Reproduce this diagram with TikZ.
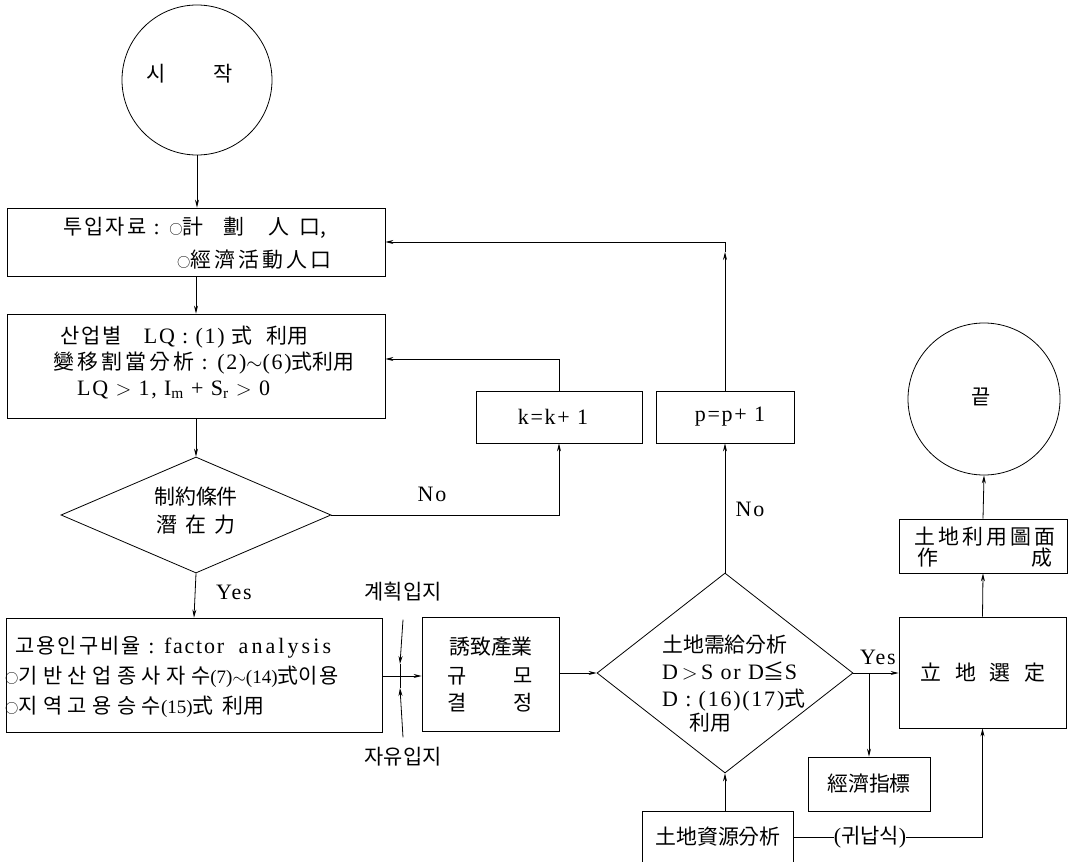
\documentclass[tikz,border=0pt]{standalone}
\usepackage{fontspec}
\setmainfont{Liberation Serif}[LetterSpace=8]
\newfontfamily\cjk[Scale=0.95]{Noto Sans CJK KR}
\newfontfamily\cjkw[Scale=0.95,LetterSpace=15]{Noto Sans CJK KR}
\newfontfamily\hg[Scale=0.95,LetterSpace=10]{Noto Sans CJK KR}
\newfontfamily\hgw[Scale=0.95,LetterSpace=26]{Noto Sans CJK KR}
\newcommand{\smcirc}{{\cjk\fontsize{14}{14}\selectfont ○}}
\newcommand{\nm}[1]{{\fontsize{19}{20}\selectfont\addfontfeature{LetterSpace=0}#1}}
\usetikzlibrary{shapes.geometric,arrows.meta,calc}
\tikzset{
  box/.style={draw, line width=0.8pt, rectangle, inner sep=0pt},
  dia/.style={draw, line width=0.8pt, diamond, inner sep=0pt},
  term/.style={draw, line width=0.8pt, circle, inner sep=0pt},
  txt/.style={inner sep=0pt, font=\fontsize{22}{26}\selectfont},
  arr/.style={line width=0.8pt, -{Stealth[length=8pt,width=4pt]}},
  ln/.style={line width=0.8pt},
}
\begin{document}
\begin{tikzpicture}[x=1pt,y=-1pt]
\useasboundingbox (0,0) rectangle (1071,862);
\clip (0,0) rectangle (1071,862);
% shapes
\node[term, minimum size=150pt] (start) at (197,80) {};
\node[box, minimum width=378pt, minimum height=68pt] (box1) at (196,242) {};
\node[box, minimum width=378pt, minimum height=104pt] (box2) at (196,366) {};
\node[dia, minimum width=270pt, minimum height=116pt] (d1) at (196,515) {};
\node[box, minimum width=376pt, minimum height=114pt] (box3) at (194,675) {};
\node[box, minimum width=137pt, minimum height=114pt] (box4) at (490.5,674) {};
\node[dia, minimum width=256pt, minimum height=200pt] (d2) at (725,673) {};
\node[box, minimum width=166pt, minimum height=52pt] (kbox) at (559,417) {};
\node[box, minimum width=138pt, minimum height=52pt] (pbox) at (725,417) {};
\node[box, minimum width=167pt, minimum height=111pt] (site) at (982.5,672.5) {};
\node[box, minimum width=168pt, minimum height=54pt] (map) at (983,546) {};
\node[term, minimum size=152pt] (end) at (984,399) {};
\node[box, minimum width=122pt, minimum height=54pt] (econ) at (869,784) {};
\node[box, minimum width=151pt, minimum height=60pt] (land) at (718,841) {};
% texts
\node[txt] (tstart) at (190,74) {\hg 시\hspace{48pt}작};
\node[txt, anchor=west] (t1a) at (63,228) {{\hg 투입자료} : \smcirc{\cjk 計\hspace{20pt}劃\hspace{24pt}人\hspace{10pt}口,}};
\node[txt, anchor=west] (t1b) at (177,260) {\smcirc{\cjkw 經濟活動人口}};
\node[txt, anchor=west] (t2a) at (60,337) {{\hg 산업별}\ \ \ LQ : (1)\ {\cjk 式\ \ \ 利用}};
\node[txt, anchor=west] (t2b) at (53,363) {{\cjkw 變移割當分析} : (2)$\sim$(6){\cjk 式利用}};
\node[txt, anchor=west] (t2c) at (77,390) {LQ\ $>$\ 1,\ I$_{\mathrm m}$\ +\ S$_{\mathrm r}$\ $>$\ 0};
\node[txt] (td1a) at (196,497) {\cjk 制約條件};
\node[txt] (td1b) at (196,525) {\cjk 潛\hspace{8pt}在\hspace{8pt}力};
\node[txt, anchor=west] (t3a) at (15,647) {{\hg 고용인구비율} : factor\ \ {\addfontfeature{LetterSpace=14}analysis}};
\node[txt, anchor=west] (t3b) at (5,677) {\smcirc{\hgw 기반산업종사자수}\nm{(7)$\sim$(14)}{\cjk 式}{\hg 이용}};
\node[txt, anchor=west] (t3c) at (5,707) {\smcirc{\hgw 지역고용승수}\nm{(15)}{\cjk 式\ \ 利用}};
\node[txt] (t4a) at (491,647) {\cjk 誘致產業};
\node[txt] (t4b) at (457,676) {\hg 규};
\node[txt] (t4c) at (523,676) {\hg 모};
\node[txt] (t4d) at (457,703) {\hg 결};
\node[txt] (t4e) at (523,703) {\hg 정};
\node[txt, anchor=west] (td2a) at (662,645) {\cjk 土地需給分析};
\node[txt, anchor=west] (td2b) at (662,671) {D\,$>$\,S or D{\cjk ≦}S};
\node[txt, anchor=west] (td2c) at (662,700) {D : (16)(17){\cjk 式}};
\node[txt] (td2d) at (710,723) {\cjk 利用};
\node[txt] (tk) at (553,417) {k=k+\ 1};
\node[txt] (tp) at (730,417) {p=p+\ 1};
\node[txt] (tsite) at (983,673) {\cjk 立\hspace{14pt}地\hspace{14pt}選\hspace{14pt}定};
\node[txt] (tmapa) at (985,537) {\cjkw 土地利用圖面};
\node[txt] (tmapb) at (928,558) {\cjk 作};
\node[txt] (tmapc) at (1042,558) {\cjk 成};
\node[txt] (tend) at (981,397) {\hg 끝};
\node[txt] (tecon) at (869,784) {\cjk 經濟指標};
\node[txt] (tland) at (718,837) {\cjk 土地資源分析};
\node[txt] (plan) at (403,592) {\cjk 계획입지};
\node[txt] (free) at (403,757) {\cjk 자유입지};
\node[txt] (ind) at (870,837) {({\cjk 귀납식})};
\node[txt] (yes1) at (234,592) {Yes};
\node[txt] (no1) at (432,494) {No};
\node[txt] (no2) at (750,509) {No};
\node[txt] (yes2) at (878,657) {Yes};
\coordinate (jn) at (400,676);
\coordinate (pc) at (pbox.north |- box1.east);
\coordinate (pm) at ([yshift=-10pt]pc);
% connectors
\draw[arr] (start.south) -- (start.south |- box1.north);
\draw[arr] (box1.south) -- (box2.north);
\draw[arr] (box2.south) -- (d1.north);
\draw[arr] (d1.south) -- (box3.north);
\draw[arr] (d1.east) -| (kbox.south);
\draw[arr] (kbox.north) |- ([yshift=7pt]box2.east);
\draw[arr] (box3.east |- jn) -- (box4.west |- jn);
\draw[arr] ([yshift=-18pt]plan.south) -- ([yshift=12pt]jn);
\draw[arr] ([yshift=10pt]free.north) -- ([yshift=-12pt]jn);
\draw[ln] ([yshift=-12pt]jn) -- ([yshift=12pt]jn);
\draw[arr] (box4.east |- d2.west) -- (d2.west);
\draw[arr] (d2.north) -- (pbox.south);
\draw[arr] (pbox.north) -- (pm);
\draw[arr] (pm) -- (pc) -- (box1.east);
\draw[arr] (d2.east) -- (site.west |- d2.east);
\draw[arr] (econ.north |- d2.east) -- (econ.north);
\draw[arr] (d2.south |- land.north) -- (d2.south);
\draw[ln] (land.east |- ind.west) -- (ind.west);
\draw[arr] (ind.east) -| (site.south);
\draw[arr] (site.north) -- (map.south);
\draw[arr] (map.north) -- (end.south);
\end{tikzpicture}
\end{document}
